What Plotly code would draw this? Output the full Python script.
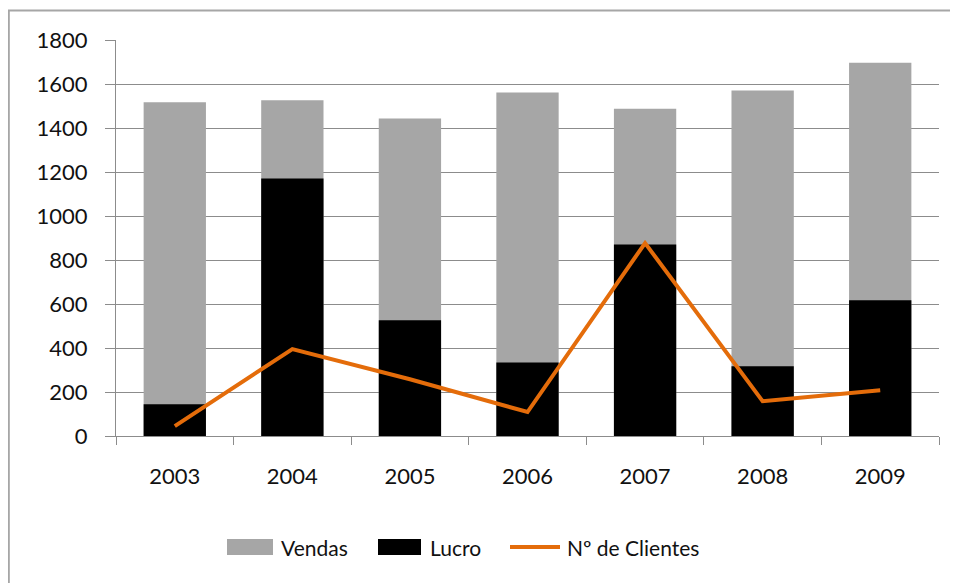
import plotly.graph_objects as go

years = ["2003", "2004", "2005", "2006", "2007", "2008", "2009"]
vendas = [1517, 1526, 1443, 1561, 1488, 1570, 1697]
lucro = [144, 1171, 526, 334, 870, 317, 617]
clientes = [45, 395, 258, 109, 877, 158, 208]
y_ticks = [0, 200, 400, 600, 800, 1000, 1200, 1400, 1600, 1800]

names = ["Vendas", "Lucro", "Nº de Clientes"]
colors = ["#A6A6A6", "#000000", "#E46C0A"]

FONT = "Lato, 'Open Sans', sans-serif"
TXT = "#111111"
W, H = 958, 583
OFF = 8  # page body margin
L, R, T, B = 108, 27, 32, 155

fig = go.Figure()
fig.add_trace(go.Bar(x=years, y=vendas, name=names[0], marker=dict(color=colors[0], line=dict(width=0)), width=0.53))
fig.add_trace(go.Bar(x=years, y=lucro, name=names[1], marker=dict(color=colors[1], line=dict(width=0)), width=0.53))
fig.add_trace(go.Scatter(x=years, y=clientes, name=names[2], mode="lines",
                         line=dict(color=colors[2], width=4)))

pw = W - L - R
ph = H - T - B
def px(x):  # page x -> paper
    return (x - OFF - L) / pw
def py(y):  # page y -> paper
    return (H - B - (y - OFF)) / ph

shapes = [dict(type="rect", xref="paper", yref="paper",
               x0=px(8.8), x1=px(1000), y0=py(640), y1=py(10.5),
               line=dict(color="#A6A6A6", width=2), layer="below")]
# legend swatches
ly = 547
shapes.append(dict(type="rect", xref="paper", yref="paper", x0=px(227), x1=px(273),
                   y0=py(ly + 8), y1=py(ly - 8), fillcolor=colors[0], line=dict(width=0)))
shapes.append(dict(type="rect", xref="paper", yref="paper", x0=px(378), x1=px(421),
                   y0=py(ly + 8), y1=py(ly - 8), fillcolor=colors[1], line=dict(width=0)))
shapes.append(dict(type="line", xref="paper", yref="paper", x0=px(510), x1=px(560),
                   y0=py(ly), y1=py(ly), line=dict(color=colors[2], width=4)))
annotations = []
for name, xpos in zip(names, [279, 428, 565]):
    annotations.append(dict(text=name, xref="paper", yref="paper", x=px(xpos), y=py(ly),
                            xanchor="left", yanchor="middle", showarrow=False,
                            font=dict(size=21, color=TXT)))

fig.update_layout(
    width=W, height=H,
    margin=dict(l=L, r=R, t=T, b=B),
    barmode="overlay",
    paper_bgcolor="white", plot_bgcolor="white",
    font=dict(family=FONT, size=22, color=TXT),
    showlegend=False,
    xaxis=dict(type="category", showline=True, linecolor="#8C8C8C", linewidth=1,
               ticks="outside", tickson="boundaries", ticklen=8, tickcolor="#8C8C8C",
               showgrid=False, ticklabelstandoff=21, tickfont=dict(size=22)),
    yaxis=dict(range=[0, 1800], tickvals=y_ticks, showline=True, linecolor="#8C8C8C", linewidth=1,
               ticks="outside", ticklen=10, tickcolor="#8C8C8C",
               showgrid=True, gridcolor="#8C8C8C", gridwidth=1, zeroline=False,
               ticklabelstandoff=13, tickfont=dict(size=22)),
    shapes=shapes,
    annotations=annotations,
)

fig.write_html("out.html")
